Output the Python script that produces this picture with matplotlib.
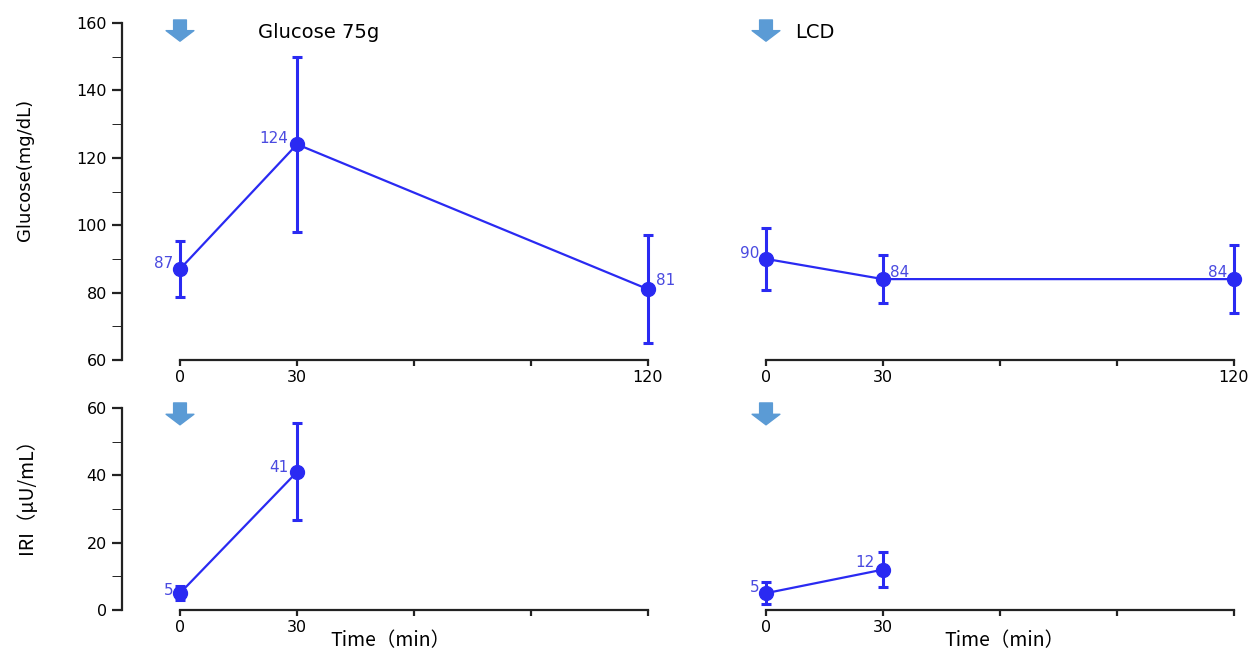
import numpy as np
import matplotlib.pyplot as plt
from matplotlib.ticker import MultipleLocator

# data
times = [0, 30, 120]
glu_75g = [87, 124, 81]
glu_75g_err = [8.3, 26, 16]
glu_lcd = [90, 84, 84]
glu_lcd_err = [9.2, 7.2, 10]

iri_times = [0, 30]
iri_75g = [5, 41]
iri_75g_err = [2, 14.4]
iri_lcd = [5, 12]
iri_lcd_err = [3.2, 5.3]

x_ticks = [0, 30, 60, 90, 120]
x_ticklabels = ['0', '30', '', '', '120']
x_ticklabels_short = ['0', '30', '', '', '']

LINE = '#2a2af2'
LABEL = '#4a4ae0'
ARROW = '#5b9bd5'
W, H = 1253, 651

fig = plt.figure(figsize=(W / 100, H / 100), dpi=100)


def px_axes(left, right, top, bottom):
    return fig.add_axes([left / W, 1 - bottom / H, (right - left) / W, (bottom - top) / H])


def style_axes(ax, show_y):
    for s in ['top', 'right']:
        ax.spines[s].set_visible(False)
    ax.spines['bottom'].set_bounds(0, 120)
    ax.spines['bottom'].set_linewidth(1.6)
    ax.spines['bottom'].set_color('#222222')
    ax.spines['left'].set_linewidth(1.6)
    ax.spines['left'].set_color('#222222')
    ax.set_xlim(-15, 123)
    ax.set_xticks(x_ticks)
    ax.tick_params(axis='both', direction='out', length=4, width=1.6,
                   labelsize=11.5, colors='#222222', labelcolor='black')
    ax.tick_params(axis='y', which='both', length=7)
    if not show_y:
        ax.spines['left'].set_visible(False)
        ax.set_yticks([])
        ax.tick_params(axis='y', which='both', left=False)


def draw_series(ax, x, y, err):
    ax.errorbar(x, y, yerr=err, color=LINE, lw=1.6, elinewidth=2.2,
                capsize=3.5, capthick=2.2, marker='o', markersize=10,
                clip_on=False, zorder=3)


def label(ax, x, y, text, dx, dy, ha):
    ax.annotate(text, (x, y), xytext=(dx, dy), textcoords='offset points',
                ha=ha, va='center', fontsize=11, color=LABEL,
                annotation_clip=False)


def arrow(ax, x, y0, y1):
    ax.annotate('', xy=(x, y1), xytext=(x, y0),
                arrowprops=dict(arrowstyle='simple,head_length=0.38,head_width=1.0,tail_width=0.46',
                                mutation_scale=20, color=ARROW, shrinkA=0, shrinkB=0),
                annotation_clip=False)


# top row: glucose
ax1 = px_axes(121.5, 659.7, 23, 360)
ax2 = px_axes(707.5, 1245.7, 23, 360)
for ax, show_y in [(ax1, True), (ax2, False)]:
    ax.set_ylim(60, 160)
    style_axes(ax, show_y)
    ax.set_xticklabels(x_ticklabels)
ax1.set_yticks(np.arange(60, 161, 20))
ax1.yaxis.set_minor_locator(MultipleLocator(10))

draw_series(ax1, times, glu_75g, glu_75g_err)
draw_series(ax2, times, glu_lcd, glu_lcd_err)

label(ax1, 0, 87, '87', -5, 4, 'right')
label(ax1, 30, 124, '124', -6, 4, 'right')
label(ax1, 120, 81, '81', 6, 6, 'left')
label(ax2, 0, 90, '90', -5, 4, 'right')
label(ax2, 30, 84, '84', 5, 5, 'left')
label(ax2, 120, 84, '84', -5, 5, 'right')

arrow(ax1, 0, 160.9, 154.6)
arrow(ax2, 0, 160.9, 154.6)
ax1.text(20, 157.3, 'Glucose 75g', fontsize=14, va='center', ha='left')
ax2.text(7.5, 157.3, 'LCD', fontsize=14, va='center', ha='left')

# bottom row: IRI
ax3 = px_axes(121.5, 659.7, 408, 610)
ax4 = px_axes(707.5, 1245.7, 408, 610)
for ax, show_y in [(ax3, True), (ax4, False)]:
    ax.set_ylim(0, 60)
    style_axes(ax, show_y)
    ax.set_xticklabels(x_ticklabels_short)
ax3.set_yticks(np.arange(0, 61, 20))
ax3.yaxis.set_minor_locator(MultipleLocator(10))

draw_series(ax3, iri_times, iri_75g, iri_75g_err)
draw_series(ax4, iri_times, iri_lcd, iri_lcd_err)

label(ax3, 0, 5, '5', -5, 2, 'right')
label(ax3, 30, 41, '41', -6, 3, 'right')
label(ax4, 0, 5, '5', -5, 4, 'right')
label(ax4, 30, 12, '12', -6, 5, 'right')

arrow(ax3, 0, 61.5, 55)
arrow(ax4, 0, 61.5, 55)

# axis titles
fig.text(25 / W, 1 - 170 / H, 'Glucose(mg/dL)', rotation=90, ha='center', va='center',
         fontsize=13)
fig.text(27 / W, 1 - 491 / H, 'IRI（μU/mL）', rotation=90, ha='center', va='center',
         fontsize=14, family=['Noto Sans CJK JP', 'DejaVu Sans'])
fig.text(390 / W, 1 - 641 / H, 'Time（min）', ha='center', va='center',
         fontsize=14, family=['Noto Sans CJK JP', 'DejaVu Sans'])
fig.text(1004 / W, 1 - 641 / H, 'Time（min）', ha='center', va='center',
         fontsize=14, family=['Noto Sans CJK JP', 'DejaVu Sans'])

fig.savefig('out.png', dpi=100)
